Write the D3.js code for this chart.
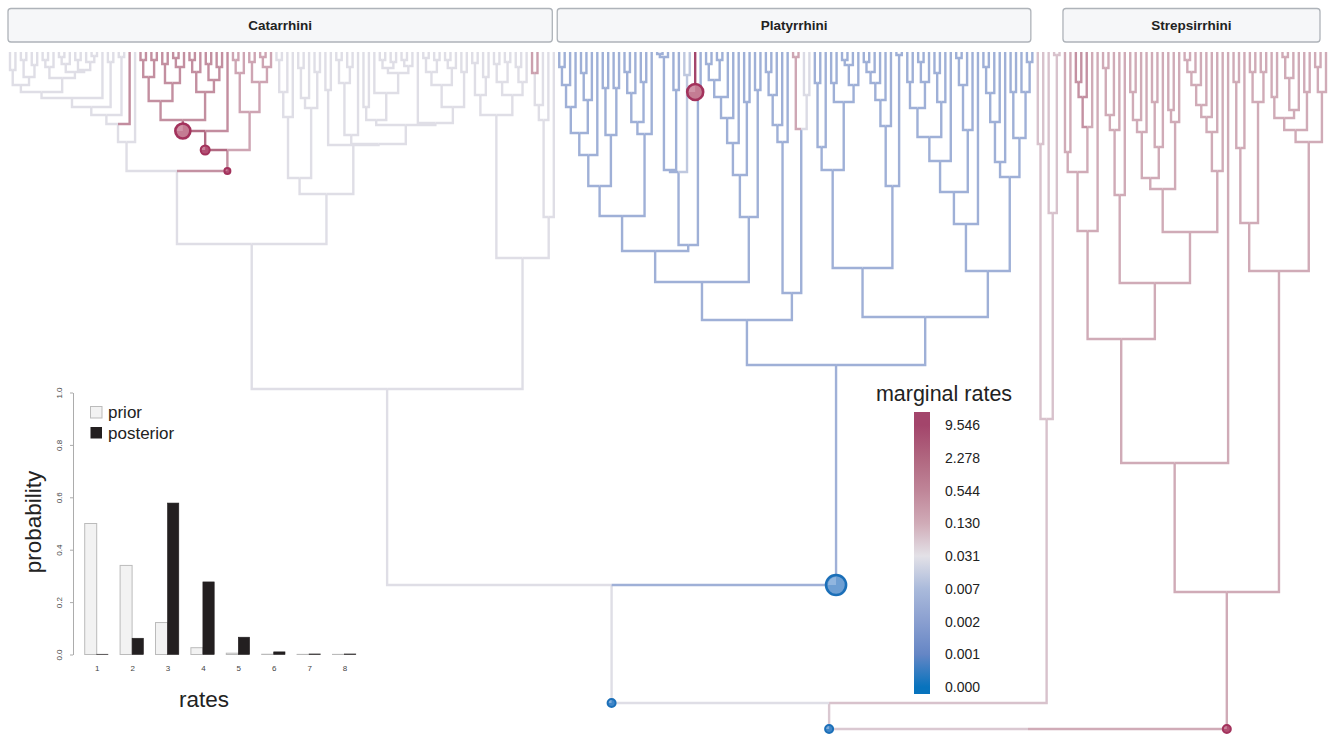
<!DOCTYPE html>
<html><head><meta charset="utf-8">
<script src="https://cdn.jsdelivr.net/npm/d3@7"></script>
<style>
html,body{margin:0;padding:0;background:#fff;}
svg{display:block;font-family:"Liberation Sans",Arial,Helvetica,sans-serif;}
</style></head><body>
<svg id="chart" width="1329" height="735"></svg>
<script>
// ================= DATA =================
// Tree: "t" = tip, "(a,b)age" internal node with age (Ma), optional "=Name", ":rate" (branch marginal rate,
// inherited by descendants unless overridden) and "@r" (rate-shift marker radius; negative = decrease)
const combK6 = "((t,t)1.8,((t,t)0.8,(t,t)1.3)2.5)3.3";
const combK7 = "(((t,t)0.8,t)1.5,(((t,t)0.5,t)1.2,((t,t)0.8,(t,(t,t)0.4)1.0)1.8)2.0)2.6";
const combClade = `((((((${combK6},${combK7})4.0,t)4.6,(t,t)1.0)5.5,(t,t)0.5)6.3,t:0.4)7.2,t)9.0`;
const pinkP1a1 = "(((t,t)0.8,(t,t)0.8)2.5,((t,t)1.2,((t,t)0.6,t)1.5)3.1)4.9:0.38";
const pinkP1a2 = "(((t,t)0.8,t)2.0,((t,t)1.2,(t,t)1.5)2.8)4.0:0.38";
const pinkP2 = "(((t,t)0.8,t)2.1,((t,t)1.0,((t,t)0.5,t)1.5)3.0)6.0:0.16";
const pinkClade = `(((${pinkP1a1},${pinkP1a2})6.8:1.8@7.5,t:0.4)7.9:1.8@4.5,${pinkP2})9.8:0.35@3`;
const cerc1 = `(${combClade},${pinkClade})11.9`;
const cercD = "((((t,t)0.8,t)4.0,t)6.5,(((t,t)1.6,t)4.6,(t,t)2.0)5.6)12.6";
const cercE2a = "((t,t)5.5,(t,(((t,t)0.8,(t,t)1.0)1.6,((t,t)0.8,t)1.4)2.1)4.1)6.8";
const cercE2b = "(t,((((t,t)0.6,(t,t)0.8)2.0,((t,t)0.8,t)1.6)3.3,(t,t)2.0)5.5)7.1";
const cercE = `((t,t)3.8,((((t,t)0.8,(t,t)1.5)3.1,t)8.3,(${cercE2a},${cercE2b})7.3)9.2)9.3`;
const cerc2 = `(${cercD},${cercE})14.2`;
const hylobatids = "(((t,t)1.1,(t,t)2.5)4.3,(((t,t)1.2,(t,t)1.0)3.0,((t,t)1.5,t)3.0)4.3)6.3";
const hominids = "((((t:0.2,t:0.2)2.1,t)5.3,t)6.8,t)16.5";
const catarrhini = `((${cerc1},${cerc2})19.2,(${hylobatids},${hominids})20.6)33.7=Catarrhini`;

const platC1a = "((((((t,t)1.5,t)3.3,t)5.5,((t,t)2.1,t)4.8)8.1,t)10.3,((t,t)3.6,(t,t)3.6)8.3)13.4";
const platC1b = "((((t,t)2.0,t)4.1,(t,t)3.0)7.0,t)8.2";
const platC2 = "(((((t,t)0.2,t)0.5,(t,t)3.8)11.8,(t,t)2.3:0.012)12.0,(t:9.5@8,t)4.0)19.3";
const platE = "(((((((t,t)1.2,(t,t)0.8)2.8,t)4.5,t)6.6,t)9.1,(t,t)5.0)12.3,(t,t)3.8)16.5";
const platPL2 = "(((((t,t)2.0,t)4.3,t)7.3,t)9.0,((t,t)0.5:0.15,(t,t)4.3:0.025)7.7)24.1";
const platPL = `((((${platC1a},${platC1b})16.4,${platC2})19.9,${platE})23.0,${platPL2})26.8`;
const platU = "(((t,t)3.1,t)9.5,((t,t)3.1,(((t,t)0.8,t)1.3,t)3.3)5.0)11.8";
const platV = "((((((t,t)1.0,t)2.0,t)3.1,t)4.8,t)7.4,(t,t)0.3)13.4";
const platX1 = "((((((t,t)3.0,((t,t)1.0,t)3.0)5.6,((t,t)2.1,t)5.0)8.5,t)10.9,(((t,t)0.6,t)3.3,t)7.8)14.0,t)17.2";
const platX2 = "(((((t,t)1.5,t)4.1,t)7.0,t)11.0,((t,t)4.0,(t,(t,t)1.0)4.0)8.6)12.5";
const platPR = `((${platU},${platV})21.6,(${platX1},${platX2})21.9)26.5`;
const platyrrhini = `(${platPL},${platPR})31.3=Platyrrhini:0.0045@-10`;

const tarsiers = "((t,t)9.2,(t,(t,t)0.3)16.1)36.7:0.07";

const lemL1a = "(((t,t)10.0,(((t,t)3.0,t)4.5:0.35,t)7.5)12.0,t)17.9";
const lemB1 = "((((t,t)1.6,t)6.3,t)7.8,t)14.3";
const lemB2a = "(((((t,t)4.0,t)6.8,t)8.0,((t,t)5.0,t)9.5)12.6,((t,t)5.8,t)7.0)13.7";
const lemB2b = "(((((((t,t)0.8,t)2.0,t)3.3,t)5.3,t)6.5,t)8.0,t)11.9";
const lemuriformes = `((${lemL1a},(${lemB1},(${lemB2a},${lemB2b})18.0)23.1)28.7,t)41.1`;
const lorLo1 = "(((t,t)3.0,t)9.6,((t,t)2.0,(t,t)2.0)5.0)17.1";
const lorLo2 = "((((t,t)4.5,(((t,t)0.5,t)2.6,t)5.8)6.6,(t,t)4.0)7.8,((t,t)1.5,t)4.0)9.0";
const lorisiformes = `(${lorLo1},${lorLo2})21.9`;
const strepsirrhini = `(${lemuriformes},${lorisiformes})54.0=Strepsirrhini:0.13@4`;

const treeString = `(((${catarrhini},${platyrrhini})53.3:0.028@-4,${tarsiers})65.1:0.06@-4,${strepsirrhini})67.7`;

const cladeNames = ["Catarrhini", "Platyrrhini", "Strepsirrhini"];

// colour legend
const rateTickLabels = ["9.546", "2.278", "0.544", "0.130", "0.031", "0.007", "0.002", "0.001", "0.000"];
const rateTickColors = ["#A3456B", "#B0667F", "#BF8598", "#D0ABB7", "#E3E1E7", "#AABADB", "#8A9FD0", "#6586C5", "#0873BD"];

// inset: rate-category probabilities
const rateCategories = [1, 2, 3, 4, 5, 6, 7, 8];
const priorProb = [0.500, 0.340, 0.122, 0.026, 0.005, 0.001, 0.0005, 0.0005];
const posteriorProb = [0.001, 0.062, 0.578, 0.277, 0.066, 0.010, 0.002, 0.002];
const probTicks = [0, 0.2, 0.4, 0.6, 0.8, 1.0];

// ================= PARSER =================
function parseTree(str) {
  const s = str.replace(/\s+/g, "");
  let i = 0;
  function num() { const m = /^-?[0-9.]+/.exec(s.slice(i)); if (!m) throw new Error("parse error at " + i + ": " + s.slice(i, i + 20)); i += m[0].length; return +m[0]; }
  function node() {
    const n = {};
    if (s[i] === "(") {
      i++; n.children = [node()];
      while (s[i] === ",") { i++; n.children.push(node()); }
      i++; n.age = num();
    } else { i++; n.age = 0; }
    if (s[i] === "=") { i++; const m = /^[A-Za-z]+/.exec(s.slice(i)); n.name = m[0]; i += m[0].length; }
    if (s[i] === ":") { i++; n.rate = num(); }
    if (s[i] === "@") { i++; n.shift = num(); }
    return n;
  }
  return node();
}

// ================= LAYOUT =================
const W = 1329, H = 735;
const svg = d3.select("#chart");

const root = d3.hierarchy(parseTree(treeString));
const leaves = root.leaves();
const xTip = d3.scaleLinear().domain([0, leaves.length - 1]).range([10, 1326]);
const yAge = d3.scaleLinear().domain([0, 67.7]).range([52, 729]);
leaves.forEach((d, i) => d.x = xTip(i));
root.eachAfter(d => {
  if (d.children) d.x = (d.children[0].x + d.children[d.children.length - 1].x) / 2;
  d.y = yAge(d.data.age);
});
root.eachBefore(d => { d.rate = d.data.rate != null ? d.data.rate : (d.parent ? d.parent.rate : 0.028); });

const tickLogs = rateTickLabels.map(v => +v > 0 ? Math.log10(+v) : -4);
const rateColor = d3.scaleLinear().domain(tickLogs).range(rateTickColors).clamp(true);
const colorOf = r => rateColor(Math.log10(r));

// ---- header boxes ----
cladeNames.forEach(name => {
  const node = root.descendants().find(d => d.data.name === name);
  const lv = node.leaves();
  const x0 = lv[0].x - 2, x1 = Math.min(lv[lv.length - 1].x - 1.5, W - 9);
  const g = svg.append("g");
  g.append("rect").attr("x", x0).attr("y", 8.5).attr("width", x1 - x0).attr("height", 33.5)
    .attr("rx", 3).attr("fill", "#F6F7F9").attr("stroke", "#AEB3B9").attr("stroke-width", 1.3);
  g.append("text").attr("x", (x0 + x1) / 2).attr("y", 29.5).attr("text-anchor", "middle")
    .attr("font-weight", "bold").attr("font-size", 13.5).attr("fill", "#222").text(name);
});

// ---- branches ----
const branches = root.descendants().filter(d => d.parent);
svg.append("g").attr("fill", "none").attr("stroke-width", 2.4)
  .selectAll("path").data(branches).join("path")
  .attr("d", d => `M${d.x},${d.y}V${d.parent.y}H${d.parent.x}`)
  .attr("stroke", d => colorOf(d.rate));

// ---- shift markers ----
const shifts = branches.filter(d => d.data.shift != null);
const mg = svg.append("g");
shifts.forEach(d => {
  const r = Math.abs(d.data.shift), up = d.data.shift > 0;
  const stroke = up ? "#A3325C" : "#1B6FB8";
  const fill = r > 6 ? (up ? "#C47C93" : "#6E9FD3") : (up ? "#B24F73" : "#3F86C8");
  const light = up ? "#D9A5B6" : "#A9C7E8";
  const g = mg.append("g").attr("transform", `translate(${d.x},${d.parent.y})`);
  g.append("circle").attr("r", r).attr("fill", fill);
  g.append("path").attr("d", d3.arc()({innerRadius: 0, outerRadius: r * 0.8, startAngle: -Math.PI / 2, endAngle: 0}))
    .attr("fill", light).attr("opacity", 0.6);
  g.append("circle").attr("r", r).attr("fill", "none").attr("stroke", stroke).attr("stroke-width", r > 6 ? 2.6 : 2);
});

// ---- colour legend ----
const legY = d3.scaleLinear().domain([0, rateTickLabels.length - 1]).range([425, 687]);
const barTop = 412, barBot = 694;
const grad = svg.append("defs").append("linearGradient").attr("id", "rateGrad")
  .attr("x1", 0).attr("x2", 0).attr("y1", 0).attr("y2", 1);
rateTickColors.forEach((c, k) => {
  grad.append("stop").attr("offset", (legY(k) - barTop) / (barBot - barTop)).attr("stop-color", c);
});
svg.append("rect").attr("x", 914).attr("y", barTop).attr("width", 16).attr("height", barBot - barTop)
  .attr("fill", "url(#rateGrad)");
svg.append("text").attr("x", 944).attr("y", 401).attr("text-anchor", "middle")
  .attr("font-size", 21.5).attr("fill", "#222").text("marginal rates");
svg.append("g").selectAll("text").data(rateTickLabels).join("text")
  .attr("x", 945).attr("y", (d, k) => legY(k) + 5).attr("font-size", 14).attr("fill", "#222").text(d => d);

// ---- inset bar chart ----
const yProb = d3.scaleLinear().domain([0, 1]).range([654.5, 392.5]);
const xRate = d3.scaleLinear().domain([1, 8]).range([96.7, 344.5]);
const inset = svg.append("g");
const yAxis = inset.append("g").attr("transform", "translate(73,0)")
  .call(d3.axisLeft(yProb).tickValues(probTicks).tickFormat(d3.format(".1f")).tickSize(3).tickSizeOuter(0));
yAxis.select(".domain").attr("stroke", "#888").attr("stroke-width", 0.7);
yAxis.selectAll(".tick line").attr("stroke", "#888").attr("stroke-width", 0.7);
yAxis.selectAll(".tick text").attr("x", null).attr("dy", null).attr("text-anchor", "middle")
  .attr("transform", "translate(-11,0) rotate(-90)").attr("font-size", 8).attr("fill", "#444")
  .attr("font-family", "Liberation Sans, Arial, sans-serif");

const xAxis = inset.append("g").attr("transform", "translate(0,654.5)")
  .call(d3.axisBottom(xRate).tickValues(rateCategories).tickFormat(d3.format("d")).tickSize(0).tickPadding(11));
xAxis.select(".domain").remove();
xAxis.selectAll("text").attr("font-size", 8).attr("fill", "#444").attr("font-family", "Liberation Sans, Arial, sans-serif");

inset.append("g").selectAll("rect").data(rateCategories).join("rect")
  .attr("x", (d) => xRate(d) - 12).attr("width", 12)
  .attr("y", (d, i) => yProb(priorProb[i])).attr("height", (d, i) => yProb(0) - yProb(priorProb[i]))
  .attr("fill", "#F2F2F2").attr("stroke", "#BBBBBB").attr("stroke-width", 1);
inset.append("g").selectAll("rect").data(rateCategories).join("rect")
  .attr("x", d => xRate(d)).attr("width", 11.3)
  .attr("y", (d, i) => yProb(posteriorProb[i])).attr("height", (d, i) => yProb(0) - yProb(posteriorProb[i]))
  .attr("fill", "#231F20").attr("stroke", "#231F20").attr("stroke-width", 0.6);

inset.append("rect").attr("x", 90.5).attr("y", 406.5).attr("width", 11.5).attr("height", 11.5)
  .attr("fill", "#F2F2F2").attr("stroke", "#BBBBBB");
inset.append("text").attr("x", 108).attr("y", 418).attr("font-size", 17).attr("fill", "#222").text("prior");
inset.append("rect").attr("x", 90.5).attr("y", 427).attr("width", 11.5).attr("height", 11.5)
  .attr("fill", "#231F20");
inset.append("text").attr("x", 108).attr("y", 438.5).attr("font-size", 17).attr("fill", "#222").text("posterior");

inset.append("text").attr("transform", "translate(41,522) rotate(-90)").attr("text-anchor", "middle")
  .attr("font-size", 22.5).attr("fill", "#222").text("probability");
inset.append("text").attr("x", 204).attr("y", 707).attr("text-anchor", "middle")
  .attr("font-size", 22.5).attr("fill", "#222").text("rates");
</script>
</body></html>
